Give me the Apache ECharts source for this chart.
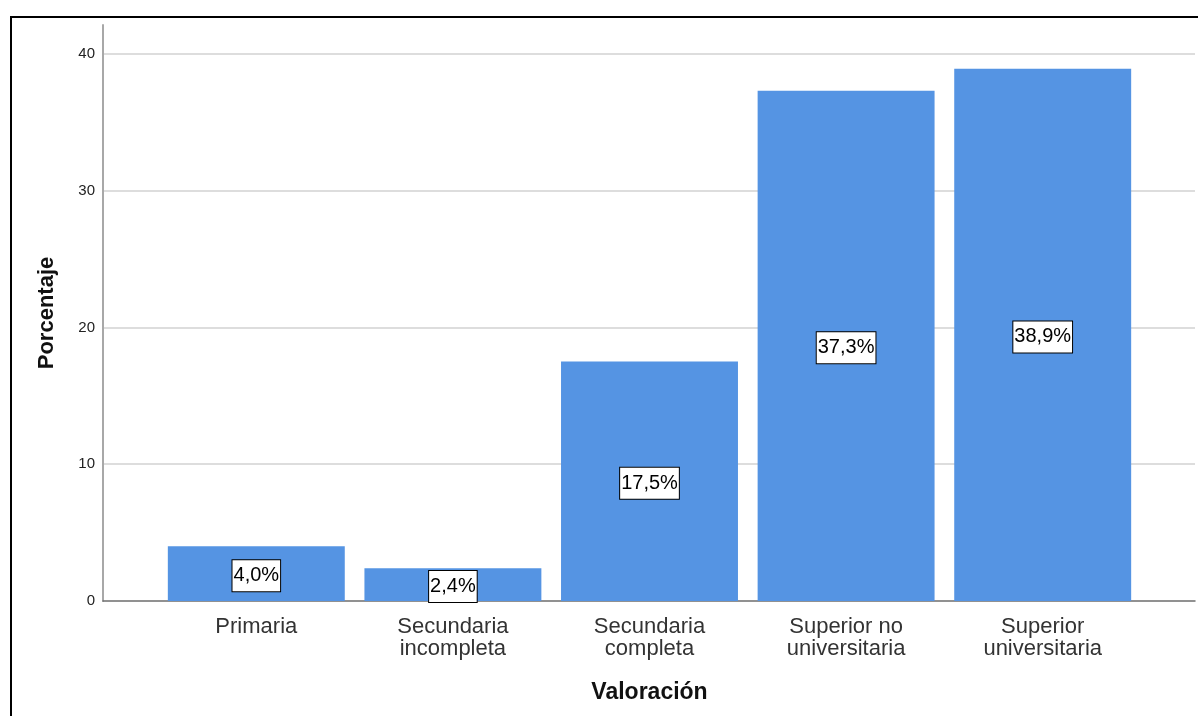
<!DOCTYPE html>
<html>
<head>
<meta charset="utf-8">
<script src="https://cdn.jsdelivr.net/npm/echarts@6/dist/echarts.min.js"></script>
<style>
  html, body { margin: 0; padding: 0; background: #fff; }
  #chart { width: 1198px; height: 716px; }
</style>
</head>
<body>
<div id="chart"></div>
<script>
// Educational level distribution (percent of respondents)
const categories = [
  'Primaria',
  'Secundaria\nincompleta',
  'Secundaria\ncompleta',
  'Superior no\nuniversitaria',
  'Superior\nuniversitaria'
];
const percentages = [4.0, 2.4, 17.5, 37.3, 38.9];
const yTicks = [0, 10, 20, 30, 40];

const Y_MAX = 42.1;
const BAR_COLOR = '#5594e3';
const FONT = '"Liberation Sans", Arial, sans-serif';

const fmtPct = v => v.toFixed(1).replace('.', ',') + '%';

const chart = echarts.init(document.getElementById('chart'), null, { renderer: 'canvas' });

chart.setOption({
  animation: false,
  backgroundColor: '#ffffff',
  textStyle: { fontFamily: FONT },
  grid: [
    // frame: axis lines and gridlines span the full plot
    { left: 103, right: 3, top: 25, bottom: 115 },
    // bars sit inset from both sides of the frame
    { left: 158, right: 57, top: 25, bottom: 115 }
  ],
  xAxis: [
    {
      gridIndex: 0, type: 'value', min: 0, max: 1,
      axisLine: { show: true, lineStyle: { color: '#6e6e6e', width: 1.5 } },
      axisTick: { show: false }, axisLabel: { show: false }, splitLine: { show: false }
    },
    {
      gridIndex: 1, type: 'category', data: categories,
      axisLine: { show: false }, axisTick: { show: false },
      axisLabel: { fontSize: 22, color: '#333', lineHeight: 22, margin: 15, interval: 0, fontFamily: FONT },
      name: 'Valoración', nameLocation: 'middle', nameGap: 80,
      nameTextStyle: { fontSize: 23, fontWeight: 'bold', color: '#111', fontFamily: FONT }
    }
  ],
  yAxis: [
    {
      gridIndex: 0, type: 'value', min: 0, max: Y_MAX, interval: 10,
      axisLine: { show: true, lineStyle: { color: '#a8a8a8', width: 2 } },
      axisTick: { show: false },
      axisLabel: {
        fontSize: 15, color: '#222', margin: 8, showMaxLabel: false, fontFamily: FONT,
        formatter: v => (yTicks.indexOf(v) >= 0 ? String(v) : '')
      },
      splitLine: { show: true, showMinLine: false, showMaxLine: false, lineStyle: { color: '#d2d2d2', width: 1.5 } },
      name: 'Porcentaje', nameLocation: 'middle', nameGap: 45,
      nameTextStyle: { fontSize: 22, fontWeight: 'bold', color: '#111', fontFamily: FONT }
    },
    {
      gridIndex: 1, type: 'value', min: 0, max: Y_MAX, show: false
    }
  ],
  series: [
    {
      type: 'bar',
      xAxisIndex: 1, yAxisIndex: 1,
      data: percentages,
      barCategoryGap: '10%',
      itemStyle: { color: BAR_COLOR },
      label: {
        show: true, position: 'inside', offset: [0, 2],
        formatter: p => fmtPct(p.value),
        fontSize: 20, color: '#000', fontFamily: FONT,
        backgroundColor: '#ffffff', borderColor: '#000', borderWidth: 1,
        padding: [6, 1, 5, 1]
      }
    }
  ],
  graphic: [
    { type: 'line', shape: { x1: 10, y1: 17, x2: 1198, y2: 17 }, style: { stroke: '#000', lineWidth: 2 } },
    { type: 'line', shape: { x1: 11, y1: 16, x2: 11, y2: 716 }, style: { stroke: '#000', lineWidth: 2 } }
  ]
});
</script>
</body>
</html>
